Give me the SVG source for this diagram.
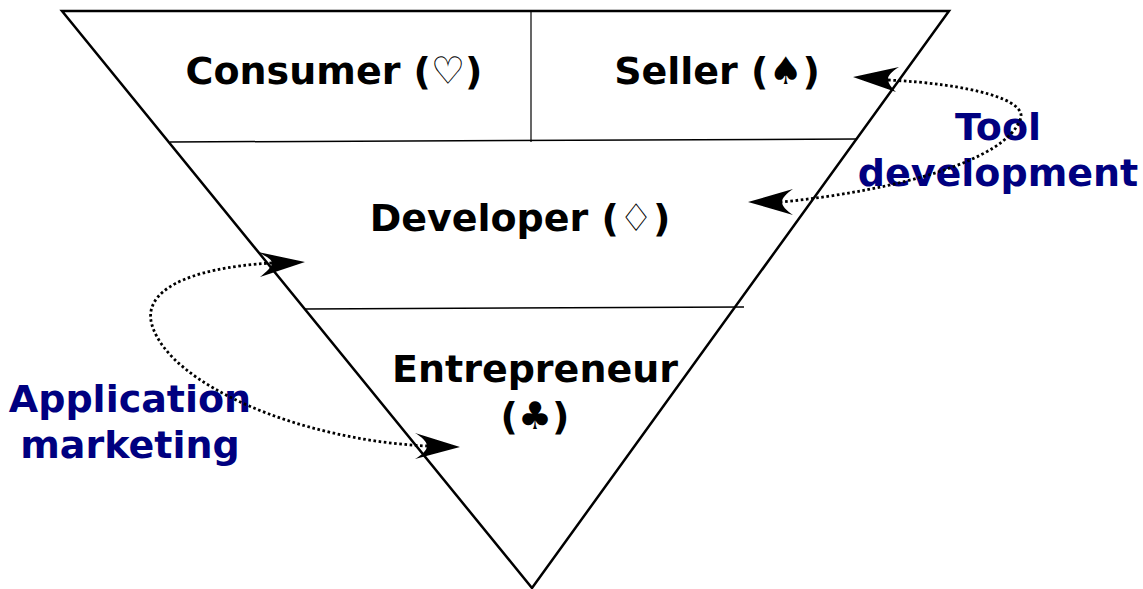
<svg xmlns="http://www.w3.org/2000/svg" width="1143" height="589" viewBox="0 0 1143 589">
<style>
.lbl{font-family:"DejaVu Sans",sans-serif;font-weight:bold;font-size:38px;fill:#000;text-anchor:middle}
.blue{fill:#000080}
.edge{fill:none;stroke:#000;stroke-width:2.8;stroke-dasharray:2.6,2.6}
.div{stroke:#000;fill:none}
.head{fill:#000}
</style>
<rect width="1143" height="589" fill="#fff"/>
<g id="funnel">
<polygon points="62,11 949,11 532,588" fill="#fff" stroke="#000" stroke-width="2.5" stroke-linejoin="miter"/>
<line class="div" x1="531" y1="11" x2="531" y2="142" stroke-width="1.2"/>
<line class="div" x1="170" y1="142" x2="857" y2="139" stroke-width="1.5"/>
<line class="div" x1="305" y1="309" x2="744" y2="307" stroke-width="1.5"/>
</g>
<g id="consumer"><text class="lbl" x="334" y="84">Consumer (♡)</text></g>
<g id="seller"><text class="lbl" x="717" y="84">Seller (♠)</text></g>
<g id="developer"><text class="lbl" x="520" y="231">Developer (♢)</text></g>
<g id="entrepreneur"><text class="lbl" x="535" y="382">Entrepreneur</text><text class="lbl" x="535" y="429">(♣)</text></g>
<g id="tool-development"><text class="lbl blue" x="998" y="140">Tool</text><text class="lbl blue" x="998" y="186">development</text></g>
<g id="application-marketing"><text class="lbl blue" x="130" y="412">Application</text><text class="lbl blue" x="130" y="458">marketing</text></g>
<g id="connectors">
<path class="edge" d="M888,80 C970,84 1030,100 1020,120 C1005,160 900,190 782,202"/>
<path class="head" d="M853,77 L899,67 C891,72 888,76 888,79 C888,83 891,87 896,92 Z"/>
<path class="head" d="M748,202 L793,189 C786,194 782,198 782,202 C782,206 786,210 793,215 Z"/>
<path class="edge" d="M272,263 C185,268 142,292 152,325 C170,385 300,440 427,446"/>
<path class="head" d="M305,262 L258,252 C265,256 272,259 272,263 C272,267 266,272 260,277 Z"/>
<path class="head" d="M460,447 L415,433 C422,437 427,442 427,446 C427,450 422,455 415,459 Z"/>
</g>
</svg>
